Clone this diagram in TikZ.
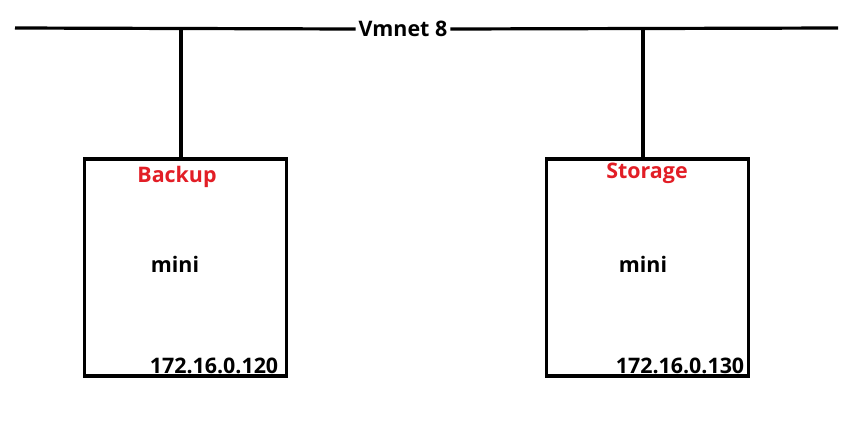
\documentclass[tikz,border=0pt]{standalone}
\usepackage{fontspec}
\setmainfont{Open Sans}
\definecolor{lblred}{RGB}{226,30,38}
\begin{document}
\begin{tikzpicture}[x=1bp,y=-1bp,
  wire/.style={line width=3.2bp},
  hostbox/.style={draw,line width=3.2bp,minimum width=202bp,minimum height=217bp,inner sep=0pt},
  txt/.style={font=\fontsize{21.5}{26}\selectfont\bfseries,inner sep=0pt},
  redtxt/.style={txt,text=lblred}]
\useasboundingbox (0,0) rectangle (861,420);
\coordinate (busL) at (15,28);
\coordinate (busR) at (838,28);
\node[txt,fill=white,inner xsep=3bp,inner ysep=2bp] (vmnet) at (403,29) {Vmnet 8};
\draw[wire] (busL) -- (vmnet.west);
\draw[wire] (vmnet.east) -- (busR);
\node[hostbox] (boxL) at (185.5,267.5) {};
\node[hostbox] (boxR) at (647.5,267.5) {};
\coordinate (tapL) at (181,28);
\coordinate (tapR) at (643,28);
\draw[wire] (tapL) -- (tapL |- boxL.north);
\draw[wire] (tapR) -- (tapR |- boxR.north);
\node[redtxt] (backup) at (177,177) {Backup};
\node[redtxt] (storage) at (647,173) {Storage};
\node[txt] (miniL) at (175,264) {mini};
\node[txt] (miniR) at (643,264) {mini};
\node[txt] (ipL) at (214,366) {172.16.0.120};
\node[txt] (ipR) at (680,366) {172.16.0.130};
\end{tikzpicture}
\end{document}
